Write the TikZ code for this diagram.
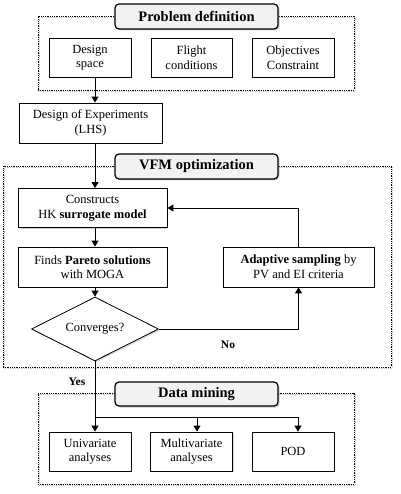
\documentclass[tikz,border=0pt]{standalone}
\usepackage{fontspec}
\setmainfont{Liberation Serif}
\usetikzlibrary{shapes.geometric,shadows,arrows.meta}
\begin{document}
\begin{tikzpicture}[x=1pt,y=-1pt,
  box/.style={draw, line width=0.8pt, fill=white, align=center, inner sep=0pt,
    font=\fontsize{12.5}{14.5}\selectfont,
    drop shadow={shadow xshift=1.3pt,shadow yshift=-1.3pt,opacity=0.35}},
  frame/.style={draw, line width=0.9pt, dash pattern=on 0.9pt off 0.9pt, inner sep=0pt,
    preaction={draw=gray!45, transform canvas={shift={(1.3pt,-1.3pt)}}}},
  titlebox/.style={draw, line width=1.2pt, rounded corners=4pt, fill=gray!10,
    font=\bfseries\fontsize{14.5}{16}\selectfont, minimum width=163pt, minimum height=25pt,
    inner sep=0pt, drop shadow={shadow xshift=1.5pt,shadow yshift=-1.5pt,opacity=0.4}},
  arr/.style={line width=1pt, -{Triangle[length=6pt,width=7pt]}},
  ln/.style={line width=1pt},
  lbl/.style={font=\bfseries\fontsize{11.5}{13}\selectfont, inner sep=0pt}]
\useasboundingbox (0,0) rectangle (400,494);
% frames
\node[frame, minimum width=316pt, minimum height=74pt] (f1) at (196,53) {};
\node[frame, minimum width=388pt, minimum height=201pt] (f2) at (197,266.5) {};
\node[frame, minimum width=316pt, minimum height=91pt] (f3) at (196,438.5) {};
% titles
\node[titlebox] (t1) at (196.5,16.5) {Problem definition};
\node[titlebox] (t2) at (196.5,166.5) {VFM optimization};
\node[titlebox, minimum height=24pt] (t3) at (196.5,394) {Data mining};
% problem definition boxes
\node[box, minimum width=82pt, minimum height=39pt] (ds) at (90,57.5) {Design\\space};
\node[box, minimum width=81pt, minimum height=39pt] (fc) at (191.5,57.5) {Flight\\conditions};
\node[box, minimum width=82pt, minimum height=39pt] (oc) at (293,57.5) {Objectives\\Constraint};
\node[box, minimum width=143pt, minimum height=40pt] (doe) at (90.5,123) {Design of Experiments\\(LHS)};
% VFM
\node[box, minimum width=149pt, minimum height=39pt] (con) at (92.5,208) {Constructs\\HK \textbf{surrogate model}};
\node[box, minimum width=149pt, minimum height=40pt] (par) at (92.5,267) {Finds \textbf{Pareto solutions}\\with MOGA};
\node[box, minimum width=151pt, minimum height=40pt] (ada) at (298.5,267) {\textbf{Adaptive sampling} by\\PV and EI criteria};
\node[box, diamond, aspect=2, minimum width=127pt, minimum height=64pt] (dia) at (95,329) {Converges?};
% data mining
\node[box, minimum width=82pt, minimum height=39pt] (uni) at (90,451.5) {Univariate\\analyses};
\node[box, minimum width=82pt, minimum height=39pt] (mul) at (191.5,451.5) {Multivariate\\analyses};
\node[box, minimum width=82pt, minimum height=39pt] (pod) at (293,451.5) {POD};
% labels
\node[lbl] (no) at (228,345) {No};
\node[lbl] (yes) at (77,382) {Yes};
% coordinates
\coordinate (sx) at (95,0);
\coordinate (br) at (95,417);
\coordinate (mx) at (197,417);
\coordinate (px) at (298,417);
% connectors
\draw[arr] (ds.south -| sx) -- (doe.north -| sx);
\draw[arr] (doe.south -| sx) -- (con.north -| sx);
\draw[arr] (con.south -| sx) -- (par.north -| sx);
\draw[arr] (par.south -| sx) -- (dia.north);
\draw[arr] (dia.east) -| (ada.south);
\draw[arr] (ada.north) |- (con.east);
\draw[ln] (dia.south) -- (br);
\draw[arr] (br) -- (uni.north -| br);
\draw[ln] (br) -- (px);
\draw[arr] (mx) -- (mul.north -| mx);
\draw[arr] (px) -- (pod.north -| px);
\end{tikzpicture}
\end{document}
